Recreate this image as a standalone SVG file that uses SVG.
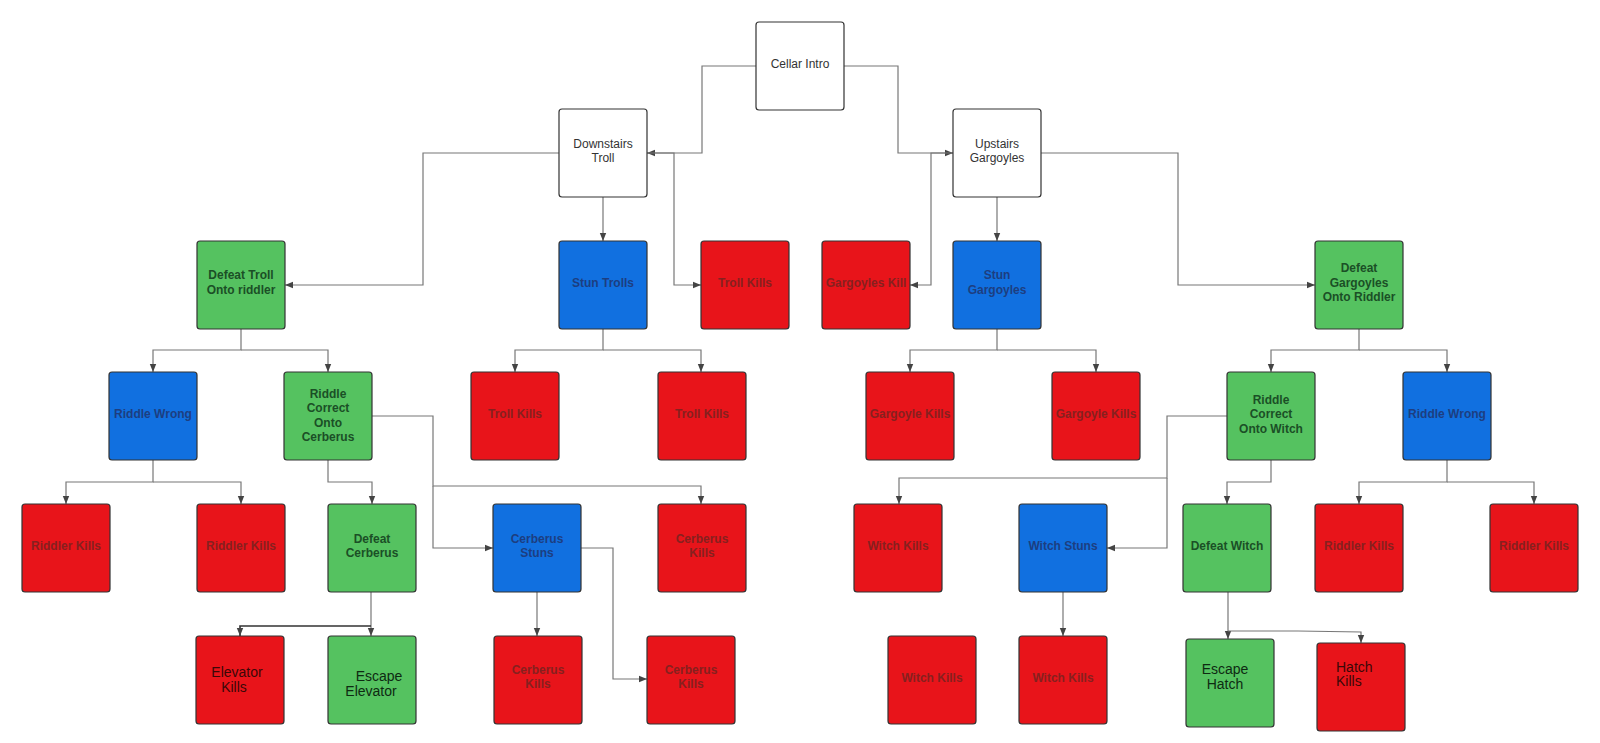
<svg xmlns="http://www.w3.org/2000/svg" width="1600" height="743" viewBox="0 0 1600 743">
<defs>
<style>
.b{stroke:#333;stroke-width:1.2}
.w{fill:#fff}.r{fill:#e8141a}.g{fill:#55c260}.u{fill:#1170e0}
text{font-family:"Liberation Sans",Arial,sans-serif;font-size:12px;text-anchor:middle}
.tw{fill:#333}
.tr{fill:#86201f;font-weight:bold}
.tg{fill:#1b4f26;font-weight:bold}
.tu{fill:#1d3e80;font-weight:bold}
.big{font-size:14px;font-weight:normal}
.br{fill:#3a0808}.bg{fill:#0e2a12}
.c path{fill:none;stroke:#777;stroke-width:1.2}
</style>
<marker id="ah" viewBox="0 0 10 10" refX="10" refY="5" markerWidth="8" markerHeight="8" markerUnits="userSpaceOnUse" orient="auto">
<path d="M0,1 L10,5 L0,9 z" fill="#444"/>
</marker>
</defs>
<rect width="1600" height="743" fill="#fff"/>
<g class="c" id="connectors">
<path d="M756 66 H702 V153 H647" marker-end="url(#ah)"/>
<path d="M844 66 H898 V153 H953" marker-end="url(#ah)"/>
<path d="M559 153 H423 V285 H285" marker-end="url(#ah)"/>
<path d="M603 197 V241" marker-end="url(#ah)"/>
<path d="M647 153 H674 V285 H701" marker-end="url(#ah)"/>
<path d="M953 153 H931 V285 H910" marker-end="url(#ah)"/>
<path d="M997 197 V241" marker-end="url(#ah)"/>
<path d="M1041 153 H1178 V285 H1315" marker-end="url(#ah)"/>
<path d="M241 328 V350 H153 V372" marker-end="url(#ah)"/>
<path d="M241 350 H328 V372" marker-end="url(#ah)"/>
<path d="M603 328 V350 H515 V372" marker-end="url(#ah)"/>
<path d="M603 350 H701 V372" marker-end="url(#ah)"/>
<path d="M997 328 V350 H910 V372" marker-end="url(#ah)"/>
<path d="M997 350 H1096 V372" marker-end="url(#ah)"/>
<path d="M1359 328 V350 H1271 V372" marker-end="url(#ah)"/>
<path d="M1359 350 H1447 V372" marker-end="url(#ah)"/>
<path d="M153 460 V482 H66 V504" marker-end="url(#ah)"/>
<path d="M153 482 H241 V504" marker-end="url(#ah)"/>
<path d="M328 460 V482 H372 V504" marker-end="url(#ah)"/>
<path d="M372 416 H433 V486 H701 V504" marker-end="url(#ah)"/>
<path d="M433 486 V548 H493" marker-end="url(#ah)"/>
<path d="M1227 416 H1167 V478 H899 V504" marker-end="url(#ah)"/>
<path d="M1167 478 V548 H1107" marker-end="url(#ah)"/>
<path d="M1271 460 V482 H1227 V504" marker-end="url(#ah)"/>
<path d="M1447 460 V482 H1359 V504" marker-end="url(#ah)"/>
<path d="M1447 482 H1534 V504" marker-end="url(#ah)"/>
<path d="M371 592 V636" marker-end="url(#ah)"/>
<path d="M371 626 H240 V636" marker-end="url(#ah)" style="stroke:#333;stroke-width:1.6"/>
<path d="M537 592 V636" marker-end="url(#ah)"/>
<path d="M581 548 H613 V679 H647" marker-end="url(#ah)"/>
<path d="M1063 592 V636" marker-end="url(#ah)"/>
<path d="M1228 592 V639" marker-end="url(#ah)"/>
<path d="M1228 631 L1298 631 L1361 632 V643" marker-end="url(#ah)"/>
</g>
<g id="n-cellar"><rect class="b w" x="756" y="22" width="88" height="88" rx="3"/><text class="tw" x="800" y="67.5">Cellar Intro</text></g>
<g id="n-downstairs"><rect class="b w" x="559" y="109" width="88" height="88" rx="3"/><text class="tw" x="603" y="147.5">Downstairs</text><text class="tw" x="603" y="162">Troll</text></g>
<g id="n-upstairs"><rect class="b w" x="953" y="109" width="88" height="88" rx="3"/><text class="tw" x="997" y="147.5">Upstairs</text><text class="tw" x="997" y="162">Gargoyles</text></g>
<g id="n-defeat-troll"><rect class="b g" x="197" y="241" width="88" height="88" rx="3"/><text class="tg" x="241" y="279.3">Defeat Troll</text><text class="tg" x="241" y="293.7">Onto riddler</text></g>
<g id="n-stun-trolls"><rect class="b u" x="559" y="241" width="88" height="88" rx="3"/><text class="tu" x="603" y="287">Stun Trolls</text></g>
<g id="n-troll-kills-a"><rect class="b r" x="701" y="241" width="88" height="88" rx="3"/><text class="tr" x="745" y="287">Troll Kills</text></g>
<g id="n-gargoyles-kill"><rect class="b r" x="822" y="241" width="88" height="88" rx="3"/><text class="tr" x="866" y="287">Gargoyles Kill</text></g>
<g id="n-stun-gargoyles"><rect class="b u" x="953" y="241" width="88" height="88" rx="3"/><text class="tu" x="997" y="279.3">Stun</text><text class="tu" x="997" y="293.7">Gargoyles</text></g>
<g id="n-defeat-gargoyles"><rect class="b g" x="1315" y="241" width="88" height="88" rx="3"/><text class="tg" x="1359" y="272">Defeat</text><text class="tg" x="1359" y="286.5">Gargoyles</text><text class="tg" x="1359" y="301">Onto Riddler</text></g>
<g id="n-riddle-wrong-l"><rect class="b u" x="109" y="372" width="88" height="88" rx="3"/><text class="tu" x="153" y="418.3">Riddle Wrong</text></g>
<g id="n-riddle-correct-c"><rect class="b g" x="284" y="372" width="88" height="88" rx="3"/><text class="tg" x="328" y="397.6">Riddle</text><text class="tg" x="328" y="412.2">Correct</text><text class="tg" x="328" y="426.8">Onto</text><text class="tg" x="328" y="441.4">Cerberus</text></g>
<g id="n-troll-kills-b"><rect class="b r" x="471" y="372" width="88" height="88" rx="3"/><text class="tr" x="515" y="418.3">Troll Kills</text></g>
<g id="n-troll-kills-c"><rect class="b r" x="658" y="372" width="88" height="88" rx="3"/><text class="tr" x="702" y="418.3">Troll Kills</text></g>
<g id="n-gargoyle-kills-a"><rect class="b r" x="866" y="372" width="88" height="88" rx="3"/><text class="tr" x="910" y="418.3">Gargoyle Kills</text></g>
<g id="n-gargoyle-kills-b"><rect class="b r" x="1052" y="372" width="88" height="88" rx="3"/><text class="tr" x="1096" y="418.3">Gargoyle Kills</text></g>
<g id="n-riddle-correct-w"><rect class="b g" x="1227" y="372" width="88" height="88" rx="3"/><text class="tg" x="1271" y="403.5">Riddle</text><text class="tg" x="1271" y="418">Correct</text><text class="tg" x="1271" y="432.5">Onto Witch</text></g>
<g id="n-riddle-wrong-r"><rect class="b u" x="1403" y="372" width="88" height="88" rx="3"/><text class="tu" x="1447" y="418.3">Riddle Wrong</text></g>
<g id="n-riddler-kills-a"><rect class="b r" x="22" y="504" width="88" height="88" rx="3"/><text class="tr" x="66" y="550">Riddler Kills</text></g>
<g id="n-riddler-kills-b"><rect class="b r" x="197" y="504" width="88" height="88" rx="3"/><text class="tr" x="241" y="550">Riddler Kills</text></g>
<g id="n-defeat-cerberus"><rect class="b g" x="328" y="504" width="88" height="88" rx="3"/><text class="tg" x="372" y="542.6">Defeat</text><text class="tg" x="372" y="557.4">Cerberus</text></g>
<g id="n-cerberus-stuns"><rect class="b u" x="493" y="504" width="88" height="88" rx="3"/><text class="tu" x="537" y="542.6">Cerberus</text><text class="tu" x="537" y="557.2">Stuns</text></g>
<g id="n-cerberus-kills-a"><rect class="b r" x="658" y="504" width="88" height="88" rx="3"/><text class="tr" x="702" y="542.6">Cerberus</text><text class="tr" x="702" y="557.2">Kills</text></g>
<g id="n-witch-kills-a"><rect class="b r" x="854" y="504" width="88" height="88" rx="3"/><text class="tr" x="898" y="550">Witch Kills</text></g>
<g id="n-witch-stuns"><rect class="b u" x="1019" y="504" width="88" height="88" rx="3"/><text class="tu" x="1063" y="550">Witch Stuns</text></g>
<g id="n-defeat-witch"><rect class="b g" x="1183" y="504" width="88" height="88" rx="3"/><text class="tg" x="1227" y="550">Defeat Witch</text></g>
<g id="n-riddler-kills-c"><rect class="b r" x="1315" y="504" width="88" height="88" rx="3"/><text class="tr" x="1359" y="550">Riddler Kills</text></g>
<g id="n-riddler-kills-d"><rect class="b r" x="1490" y="504" width="88" height="88" rx="3"/><text class="tr" x="1534" y="550">Riddler Kills</text></g>
<g id="n-elevator-kills"><rect class="b r" x="196" y="636" width="88" height="88" rx="3"/><text class="big br" x="237" y="677.3">Elevator</text><text class="big br" x="234" y="692.3">Kills</text></g>
<g id="n-escape-elevator"><rect class="b g" x="328" y="636" width="88" height="88" rx="3"/><text class="big bg" x="379" y="681">Escape</text><text class="big bg" x="371" y="695.7">Elevator</text></g>
<g id="n-cerberus-kills-b"><rect class="b r" x="494" y="636" width="88" height="88" rx="3"/><text class="tr" x="538" y="674.3">Cerberus</text><text class="tr" x="538" y="688.3">Kills</text></g>
<g id="n-cerberus-kills-c"><rect class="b r" x="647" y="636" width="88" height="88" rx="3"/><text class="tr" x="691" y="674.3">Cerberus</text><text class="tr" x="691" y="688.3">Kills</text></g>
<g id="n-witch-kills-b"><rect class="b r" x="888" y="636" width="88" height="88" rx="3"/><text class="tr" x="932" y="681.6">Witch Kills</text></g>
<g id="n-witch-kills-c"><rect class="b r" x="1019" y="636" width="88" height="88" rx="3"/><text class="tr" x="1063" y="681.6">Witch Kills</text></g>
<g id="n-escape-hatch"><rect class="b g" x="1186" y="639" width="88" height="88" rx="3"/><text class="big bg" x="1225" y="674.3">Escape</text><text class="big bg" x="1225" y="689">Hatch</text></g>
<g id="n-hatch-kills"><rect class="b r" x="1317" y="643" width="88" height="88" rx="3"/><text class="big br" x="1336" y="671.7" style="text-anchor:start">Hatch</text><text class="big br" x="1336" y="686" style="text-anchor:start">Kills</text></g>
</svg>
